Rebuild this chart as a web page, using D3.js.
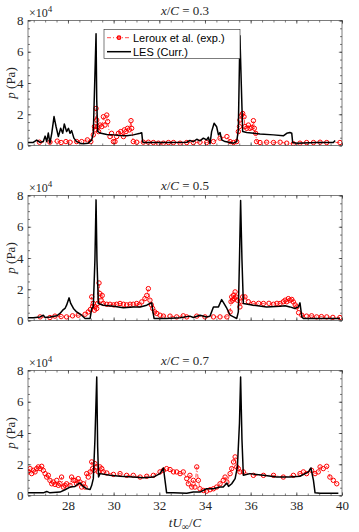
<!DOCTYPE html>
<html>
<head>
<meta charset="utf-8">
<script src="https://cdn.jsdelivr.net/npm/d3@7"></script>
<style>
  body { margin: 0; background: #fff; }
  .tick text { font-family: "Liberation Serif", "DejaVu Serif", serif; font-size: 13px; fill: #262626; }
  .tick line { stroke: #262626; stroke-width: 0.6; }
</style>
</head>
<body>
<script>
// tick labels
var xTicks = [28, 30, 32, 34, 36, 38, 40];
var yTicks = [0, 2, 4, 6, 8];
var stations = ['0.3', '0.5', '0.7'];
var seriesNames = ['Leroux et al. (exp.)', 'LES (Curr.)'];

// [tU/C, p (x10^4 Pa)] -- LES, x/C = 0.3
var les03 = [[26.25,0.2],[26.48,0.2],[26.63,0.35],[26.78,0.2],[26.92,0.25],[27.00,0.6],[27.07,0.25],[27.14,0.8],[27.21,0.15],[27.29,0.78],[27.39,1.85],[27.48,1.2],[27.58,0.57],[27.68,1.1],[27.77,0.78],[27.84,1.38],[27.94,0.89],[28.02,1.1],[28.09,0.78],[28.16,0.95],[28.26,0.47],[28.38,0.25],[28.53,0.15],[28.67,0.11],[28.89,0.15],[29.04,0.36],[29.11,0.78],[29.18,4.5],[29.23,7.15],[29.26,2.9],[29.30,0.9],[29.40,0.8],[29.70,0.7],[29.99,0.68],[30.28,0.64],[30.57,0.62],[30.86,0.68],[31.16,0.78],[31.23,0.82],[31.27,0.25],[31.30,0.19],[31.59,0.19],[32.32,0.19],[33.20,0.21],[33.34,0.32],[33.49,0.25],[33.64,0.4],[33.78,0.3],[33.93,0.47],[34.07,0.36],[34.15,0.53],[34.22,0.11],[34.29,0.89],[34.40,1.42],[34.51,1.2],[34.59,0.68],[34.66,0.83],[34.73,0.36],[34.88,0.25],[35.10,0.19],[35.25,0.15],[35.39,0.25],[35.46,1.0],[35.53,7.03],[35.61,2.9],[35.65,0.9],[35.83,0.83],[36.41,0.74],[37.00,0.68],[37.43,0.62],[37.58,0.78],[37.72,0.83],[37.80,0.78],[37.84,0.19],[38.02,0.15],[38.89,0.19],[39.62,0.19],[39.70,0.32]];

// experiment, x/C = 0.3
var exp03 = [[26.75,0.21],[27.21,0.21],[27.53,0.28],[27.70,0.19],[27.91,0.25],[28.09,0.21],[28.38,0.25],[28.60,0.25],[28.85,0.36],[29.00,0.25],[29.11,0.68],[29.16,1.21],[29.18,1.0],[29.23,2.37],[29.26,1.63],[29.30,1.21],[29.34,0.89],[29.40,1.31],[29.48,1.21],[29.55,1.84],[29.62,1.31],[29.70,1.95],[29.74,1.53],[29.84,0.57],[29.91,0.78],[29.99,0.25],[30.06,0.25],[30.13,0.57],[30.21,0.78],[30.31,0.89],[30.43,0.57],[30.47,1.0],[30.54,0.89],[30.61,1.1],[30.69,1.0],[30.76,1.59],[30.79,1.1],[30.86,0.25],[31.01,0.21],[31.30,0.21],[31.52,0.21],[31.74,0.19],[31.96,0.15],[32.18,0.15],[32.40,0.19],[32.62,0.19],[32.91,0.15],[33.20,0.19],[33.49,0.19],[33.78,0.21],[34.07,0.19],[34.37,0.25],[34.66,0.47],[34.96,0.57],[35.10,0.25],[35.25,0.19],[35.39,0.25],[35.46,0.89],[35.51,1.21],[35.53,1.63],[35.61,1.95],[35.65,2.05],[35.71,1.84],[35.75,1.21],[35.83,1.1],[35.90,1.31],[35.97,1.1],[36.05,1.15],[36.12,1.59],[36.16,1.1],[36.22,0.78],[36.26,0.25],[36.41,0.19],[36.70,0.21],[37.00,0.19],[37.29,0.21],[37.58,0.15],[37.87,0.11],[38.16,0.15],[38.45,0.19],[38.75,0.19],[39.04,0.21],[39.33,0.19],[39.91,0.19]];

// LES, x/C = 0.5
var les05 = [[26.25,0.17],[26.48,0.17],[26.78,0.23],[26.92,0.34],[27.00,0.19],[27.21,0.23],[27.51,0.30],[27.65,0.45],[27.77,0.66],[27.87,0.77],[27.94,0.98],[28.05,1.45],[28.12,1.09],[28.24,0.77],[28.38,0.55],[28.60,0.34],[28.75,0.13],[28.97,0.13],[29.04,0.77],[29.11,0.87],[29.18,3.85],[29.23,7.72],[29.27,3.85],[29.33,1.09],[29.55,0.98],[29.99,0.91],[30.43,0.81],[30.86,0.87],[31.16,0.87],[31.45,0.98],[31.59,1.09],[31.67,1.13],[31.71,0.66],[31.77,0.13],[31.89,0.13],[32.32,0.13],[32.91,0.17],[33.34,0.28],[33.49,0.19],[33.78,0.34],[34.07,0.23],[34.22,0.28],[34.37,0.87],[34.48,0.87],[34.59,0.87],[34.73,1.34],[34.83,1.09],[34.96,0.77],[35.10,0.34],[35.25,0.23],[35.39,0.13],[35.46,0.55],[35.51,3.85],[35.56,7.68],[35.62,3.85],[35.68,1.09],[36.12,0.98],[36.70,0.87],[37.29,0.91],[37.51,0.94],[37.72,0.87],[37.94,0.77],[38.09,0.87],[38.16,1.13],[38.24,0.23],[38.31,0.13],[38.89,0.13],[39.91,0.13]];

// experiment, x/C = 0.5
var exp05 = [[26.78,0.23],[27.21,0.19],[27.43,0.28],[27.70,0.25],[27.94,0.23],[28.20,0.30],[28.45,0.34],[28.75,0.40],[28.89,0.55],[28.98,0.70],[29.04,1.51],[29.08,0.9],[29.11,1.09],[29.16,0.66],[29.18,0.87],[29.26,0.77],[29.30,1.09],[29.36,2.40],[29.40,1.72],[29.45,1.30],[29.50,1.6],[29.55,1.09],[29.70,1.04],[29.84,1.04],[30.00,1.0],[30.13,1.04],[30.28,1.09],[30.43,1.04],[30.57,1.0],[30.72,1.04],[30.86,1.04],[31.01,1.09],[31.12,1.0],[31.23,1.19],[31.37,1.40],[31.45,1.6],[31.52,2.04],[31.59,1.30],[31.65,1.0],[31.71,0.77],[31.80,0.55],[31.89,0.45],[32.03,0.34],[32.18,0.28],[32.47,0.28],[32.76,0.23],[33.05,0.3],[33.20,0.23],[33.64,0.28],[34.00,0.23],[34.37,0.23],[34.66,0.23],[34.96,0.23],[35.10,0.55],[35.14,1.2],[35.17,1.51],[35.21,1.3],[35.25,1.62],[35.28,1.4],[35.32,1.83],[35.36,1.51],[35.42,1.30],[35.53,0.87],[35.60,1.2],[35.65,1.51],[35.75,1.51],[35.90,1.2],[36.12,1.09],[36.35,1.1],[36.56,1.09],[36.80,1.1],[37.00,1.04],[37.15,1.1],[37.29,1.09],[37.43,1.2],[37.51,1.30],[37.58,1.2],[37.65,1.40],[37.72,1.30],[37.80,1.35],[37.87,1.19],[37.95,1.0],[38.02,0.87],[38.10,0.5],[38.24,0.34],[38.45,0.28],[38.67,0.3],[38.89,0.23],[39.10,0.25],[39.33,0.23],[39.60,0.2],[39.91,0.19]];

// LES, x/C = 0.7
var les07 = [[26.25,0.17],[26.92,0.17],[27.07,0.26],[27.21,0.17],[27.65,0.22],[27.87,0.37],[28.09,0.54],[28.31,0.58],[28.45,0.75],[28.53,0.80],[28.67,0.58],[28.82,0.43],[28.97,0.39],[29.04,0.65],[29.11,1.08],[29.18,3.55],[29.26,7.59],[29.30,3.12],[29.34,1.18],[29.40,1.40],[29.84,1.29],[30.28,1.23],[30.86,1.18],[31.30,1.14],[31.74,1.18],[32.03,1.40],[32.18,1.76],[32.25,0.97],[32.32,0.17],[32.62,0.17],[33.20,0.15],[33.49,0.22],[33.78,0.22],[34.07,0.43],[34.37,0.43],[34.66,0.54],[34.80,0.54],[34.96,0.80],[35.03,0.58],[35.17,0.75],[35.32,1.08],[35.42,1.83],[35.51,4.62],[35.56,7.59],[35.62,3.55],[35.68,1.29],[35.97,1.40],[36.56,1.29],[37.14,1.18],[37.72,1.18],[38.16,1.23],[38.53,1.51],[38.64,1.76],[38.75,0.97],[38.82,0.17],[39.04,0.15],[39.84,0.15]];

// experiment, x/C = 0.7
var exp07 = [[26.25,1.51],[26.34,1.72],[26.41,1.40],[26.48,1.61],[26.56,1.51],[26.63,1.72],[26.70,1.83],[26.78,1.72],[26.85,1.87],[26.92,1.61],[27.00,1.40],[27.07,1.18],[27.14,1.29],[27.21,0.97],[27.29,0.75],[27.36,0.86],[27.43,0.71],[27.51,0.97],[27.58,0.65],[27.65,0.75],[27.72,1.18],[27.80,0.54],[27.87,0.65],[27.94,0.75],[28.09,0.65],[28.16,1.18],[28.24,0.97],[28.31,0.97],[28.38,0.75],[28.45,1.08],[28.53,0.86],[28.60,0.54],[28.67,0.75],[28.75,0.54],[28.82,1.40],[28.89,1.18],[28.97,1.51],[29.04,2.15],[29.08,1.72],[29.14,1.61],[29.18,2.04],[29.26,1.83],[29.33,1.51],[29.40,1.83],[29.48,1.72],[29.55,1.51],[29.70,1.44],[29.99,1.35],[30.28,1.40],[30.57,1.29],[30.86,1.29],[31.16,1.18],[31.45,1.23],[31.74,1.29],[32.03,1.51],[32.18,1.61],[32.32,1.72],[32.47,1.66],[32.62,1.51],[32.76,1.51],[32.91,1.40],[33.05,1.51],[33.20,1.08],[33.27,0.75],[33.34,1.29],[33.42,0.54],[33.49,0.97],[33.56,0.54],[33.64,1.83],[33.71,0.97],[33.78,0.43],[33.93,0.32],[34.07,0.28],[34.22,0.37],[34.37,0.43],[34.51,0.54],[34.66,0.75],[34.80,0.97],[34.88,1.18],[34.96,0.86],[35.10,1.40],[35.17,1.72],[35.25,2.15],[35.32,2.47],[35.39,1.83],[35.46,1.72],[35.53,1.51],[35.68,1.51],[36.12,1.29],[36.56,1.29],[37.00,1.29],[37.43,1.18],[37.87,1.29],[38.16,1.40],[38.31,1.51],[38.45,1.40],[38.67,1.61],[38.82,1.40],[38.96,1.51],[39.04,1.83],[39.18,1.72],[39.33,1.87],[39.47,1.18],[39.62,0.97],[39.77,0.75]];

var lesData = [les03, les05, les07];
var expData = [exp03, exp05, exp07];

var width = 359, height = 532;
var left = 28, right = 342;
var panelTops = [20.5, 195.5, 370.5];
var panelH = 125;
var axisColor = '#262626';
var serif = '"Liberation Serif", "DejaVu Serif", serif';
var sans = '"Liberation Sans", Arial, sans-serif';

var svg = d3.select('body').append('svg')
  .attr('width', width)
  .attr('height', height);

var x = d3.scaleLinear().domain([26.25, 40]).range([left, right]);
var xLine = function(d) { return x(d[0]); };

stations.forEach(function(st, i) {
  var top = panelTops[i];
  var bottom = top + panelH;
  var y = d3.scaleLinear().domain([0, 8]).range([bottom, top]);
  var g = svg.append('g');
  var last = i === stations.length - 1;

  // clip to the axes box
  var clipId = 'clip' + i;
  svg.append('clipPath').attr('id', clipId)
    .append('rect')
    .attr('x', left).attr('y', top)
    .attr('width', right - left).attr('height', panelH);

  var line = d3.line().x(xLine).y(function(d) { return y(d[1]); });

  var plot = g.append('g').attr('clip-path', 'url(#' + clipId + ')');

  // experiment: dash-dot red line with open circles
  plot.append('path')
    .datum(expData[i])
    .attr('d', line)
    .attr('fill', 'none')
    .attr('stroke', '#ff0000')
    .attr('stroke-width', 0.7)
    .attr('stroke-dasharray', '4,2,1,2');

  plot.selectAll('circle.exp')
    .data(expData[i])
    .enter().append('circle')
    .attr('class', 'exp')
    .attr('cx', xLine)
    .attr('cy', function(d) { return y(d[1]); })
    .attr('r', 2.2)
    .attr('fill', 'none')
    .attr('stroke', '#ff0000')
    .attr('stroke-width', 1);

  // LES on top
  plot.append('path')
    .datum(lesData[i])
    .attr('d', line)
    .attr('fill', 'none')
    .attr('stroke', '#000')
    .attr('stroke-width', 1.5)
    .attr('stroke-linejoin', 'round');

  // minor ticks (inward)
  var xMinor = d3.range(26.5, 40.01, 0.5);
  var yMinor = d3.range(0, 8.01, 0.5);
  g.append('g').attr('transform', 'translate(0,' + bottom + ')')
    .call(d3.axisBottom(x).tickValues(xMinor).tickSize(-2).tickFormat(''));
  g.append('g').attr('transform', 'translate(0,' + top + ')')
    .call(d3.axisTop(x).tickValues(xMinor).tickSize(-2).tickFormat(''));
  g.append('g').attr('transform', 'translate(' + left + ',0)')
    .call(d3.axisLeft(y).tickValues(yMinor).tickSize(-2).tickFormat(''));
  g.append('g').attr('transform', 'translate(' + right + ',0)')
    .call(d3.axisRight(y).tickValues(yMinor).tickSize(-2).tickFormat(''));

  // major ticks
  g.append('g').attr('transform', 'translate(0,' + bottom + ')')
    .call(d3.axisBottom(x).tickValues(xTicks).tickSize(-3.2).tickPadding(5)
      .tickFormat(last ? d3.format('d') : ''));
  g.append('g').attr('transform', 'translate(0,' + top + ')')
    .call(d3.axisTop(x).tickValues(xTicks).tickSize(-3.2).tickFormat(''));
  g.append('g').attr('transform', 'translate(' + left + ',0)')
    .call(d3.axisLeft(y).tickValues(yTicks).tickSize(-3.2).tickPadding(4.5).tickFormat(d3.format('d')));
  g.append('g').attr('transform', 'translate(' + right + ',0)')
    .call(d3.axisRight(y).tickValues(yTicks).tickSize(-3.2).tickFormat(''));

  g.selectAll('.domain').remove();

  // box
  g.append('rect')
    .attr('x', left).attr('y', top)
    .attr('width', right - left).attr('height', panelH)
    .attr('fill', 'none')
    .attr('stroke', axisColor)
    .attr('stroke-width', 0.6);

  // exponent label
  var ex = g.append('text')
    .attr('x', left + 1).attr('y', top - 4)
    .attr('font-family', serif).attr('font-size', 12)
    .attr('fill', axisColor);
  ex.append('tspan').text('\u00d710');
  ex.append('tspan').attr('dy', -5).attr('font-size', 9).text('4');

  // title
  var t = g.append('text')
    .attr('x', (left + right) / 2).attr('y', top - 5.5)
    .attr('text-anchor', 'middle')
    .attr('font-family', serif).attr('font-size', 13)
    .attr('fill', axisColor);
  t.append('tspan').attr('font-style', 'italic').text('x');
  t.append('tspan').text('/');
  t.append('tspan').attr('font-style', 'italic').text('C');
  t.append('tspan').text(' = ' + st);

  // y label
  var yl = g.append('text')
    .attr('transform', 'translate(15,' + (top + panelH / 2) + ') rotate(-90)')
    .attr('text-anchor', 'middle')
    .attr('font-family', serif).attr('font-size', 13)
    .attr('fill', axisColor);
  yl.append('tspan').attr('font-style', 'italic').text('p');
  yl.append('tspan').text(' (Pa)');
});

// x label
var xl = svg.append('text')
  .attr('x', (left + right) / 2).attr('y', 527)
  .attr('text-anchor', 'middle')
  .attr('font-family', serif).attr('font-size', 13)
  .attr('fill', axisColor);
xl.append('tspan').attr('font-style', 'italic').text('tU');
xl.append('tspan').attr('font-size', 10).attr('dy', 3).text('\u221e');
xl.append('tspan').attr('dy', -3).text('/');
xl.append('tspan').attr('font-style', 'italic').text('C');

// legend
var lg = svg.append('g');
lg.append('rect')
  .attr('x', 104).attr('y', 29.5)
  .attr('width', 136).attr('height', 29)
  .attr('fill', '#fff')
  .attr('stroke', axisColor)
  .attr('stroke-width', 0.6);
var rows = [37.7, 51.7];
lg.append('line')
  .attr('x1', 107).attr('x2', 131).attr('y1', rows[0]).attr('y2', rows[0])
  .attr('stroke', '#ff0000').attr('stroke-width', 0.7).attr('stroke-dasharray', '4,2,1,2');
lg.append('circle')
  .attr('cx', 119).attr('cy', rows[0]).attr('r', 1.8)
  .attr('fill', '#ff6060').attr('stroke', '#ff0000').attr('stroke-width', 1.2);
lg.append('line')
  .attr('x1', 107).attr('x2', 131).attr('y1', rows[1]).attr('y2', rows[1])
  .attr('stroke', '#000').attr('stroke-width', 1.5);
lg.selectAll('text.leg')
  .data(seriesNames)
  .enter().append('text')
  .attr('class', 'leg')
  .attr('x', 133)
  .attr('y', function(d, i) { return rows[i] + 4; })
  .attr('font-family', sans).attr('font-size', 11)
  .attr('fill', '#000')
  .text(function(d) { return d; });
</script>
</body>
</html>
